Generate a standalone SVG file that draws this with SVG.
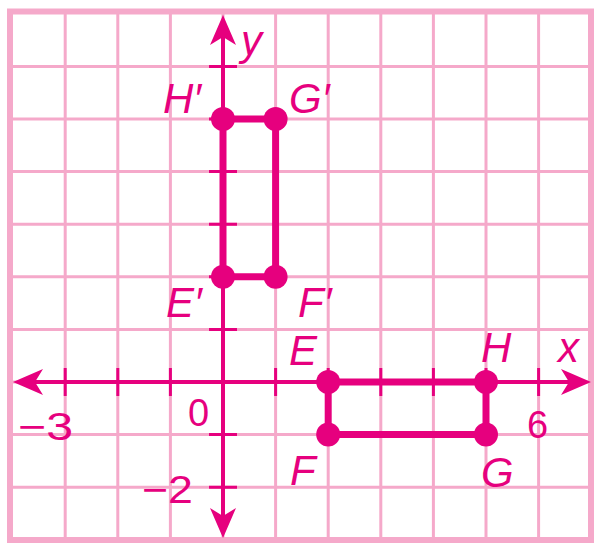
<svg xmlns="http://www.w3.org/2000/svg" width="596" height="543" viewBox="0 0 596 543">
  <style>
    .grid { stroke: #F5A9CA; stroke-width: 3; fill: none; }
    .border { stroke: #F5A9CA; stroke-width: 6; fill: none; }
    .axis { stroke: #E6007E; stroke-width: 4; fill: none; }
    .tick { stroke: #E6007E; stroke-width: 3; }
    .seg { stroke: #E6007E; stroke-width: 7; stroke-linecap: round; }
    .dot { fill: #E6007E; }
    .lbl { fill: #E6007E; font-family: "Liberation Sans", Arial, sans-serif; font-style: italic; font-size: 42px; }
    .num { fill: #E6007E; font-family: "Liberation Sans", Arial, sans-serif; font-size: 38px; }
  </style>
  <defs>
    <marker id="arrow" markerUnits="userSpaceOnUse" viewBox="0 0 30 26" refX="22" refY="13" markerWidth="30" markerHeight="26" orient="auto-start-reverse">
      <path d="M0,0 L30,13 L0,26 L8,13 Z" fill="#E6007E"/>
    </marker>
  </defs>
  <rect width="596" height="543" fill="#FFFFFF"/>
  <g id="grid">
    <path class="grid" d="M65.2,11 V540 M117.8,11 V540 M170.4,11 V540 M223,11 V540 M275.6,11 V540 M328.2,11 V540 M380.8,11 V540 M433.4,11 V540 M486,11 V540 M538.6,11 V540"/>
    <path class="grid" d="M10,66.4 H591 M10,119 H591 M10,171.6 H591 M10,224.2 H591 M10,276.8 H591 M10,329.4 H591 M10,382 H591 M10,434.6 H591 M10,487.2 H591"/>
    <rect class="border" x="10" y="11.5" width="581" height="528.5"/>
  </g>
  <g id="axes">
    <line class="axis" x1="21" y1="382" x2="583" y2="382" marker-start="url(#arrow)" marker-end="url(#arrow)"/>
    <line class="axis" x1="223" y1="23" x2="223" y2="530" marker-start="url(#arrow)" marker-end="url(#arrow)"/>
    <path class="tick" d="M65.2,368 V396 M117.8,368 V396 M170.4,368 V396 M275.6,368 V396 M328.2,368 V396 M380.8,368 V396 M433.4,368 V396 M486,368 V396 M538.6,368 V396"/>
    <path class="tick" d="M209,66.4 H237 M209,119 H237 M209,171.6 H237 M209,224.2 H237 M209,276.8 H237 M209,329.4 H237 M209,434.6 H237 M209,487.2 H237"/>
  </g>
  <g id="connectors">
    <line class="seg" x1="223" y1="119" x2="275.6" y2="119"/>
    <line class="seg" x1="275.6" y1="119" x2="275.6" y2="276.8"/>
    <line class="seg" x1="275.6" y1="276.8" x2="223" y2="276.8"/>
    <line class="seg" x1="223" y1="276.8" x2="223" y2="119"/>
    <line class="seg" x1="328.2" y1="382" x2="486" y2="382"/>
    <line class="seg" x1="486" y1="382" x2="486" y2="434.6"/>
    <line class="seg" x1="486" y1="434.6" x2="328.2" y2="434.6"/>
    <line class="seg" x1="328.2" y1="434.6" x2="328.2" y2="382"/>
  </g>
  <g id="Hp"><circle class="dot" cx="223" cy="119" r="12"/><text class="lbl" x="163" y="113">H′</text></g>
  <g id="Gp"><circle class="dot" cx="275.6" cy="119" r="12"/><text class="lbl" x="289" y="113">G′</text></g>
  <g id="Fp"><circle class="dot" cx="275.6" cy="276.8" r="12"/><text class="lbl" x="298" y="317">F′</text></g>
  <g id="Ep"><circle class="dot" cx="223" cy="276.8" r="12"/><text class="lbl" x="166" y="317">E′</text></g>
  <g id="E"><circle class="dot" cx="328.2" cy="382" r="12"/><text class="lbl" x="289" y="365">E</text></g>
  <g id="H"><circle class="dot" cx="486" cy="382" r="12"/><text class="lbl" x="481" y="362">H</text></g>
  <g id="G"><circle class="dot" cx="486" cy="434.6" r="12"/><text class="lbl" x="481" y="487">G</text></g>
  <g id="F"><circle class="dot" cx="328.2" cy="434.6" r="12"/><text class="lbl" x="290" y="485">F</text></g>
  <g id="labels">
    <text class="lbl" x="241" y="55">y</text>
    <text class="lbl" x="558" y="362">x</text>
    <text class="num" x="18" y="440" textLength="55" lengthAdjust="spacingAndGlyphs">−3</text>
    <text class="num" x="142" y="503" textLength="51" lengthAdjust="spacingAndGlyphs">−2</text>
    <text class="num" x="188" y="426">0</text>
    <text class="num" x="527" y="438">6</text>
  </g>
</svg>
